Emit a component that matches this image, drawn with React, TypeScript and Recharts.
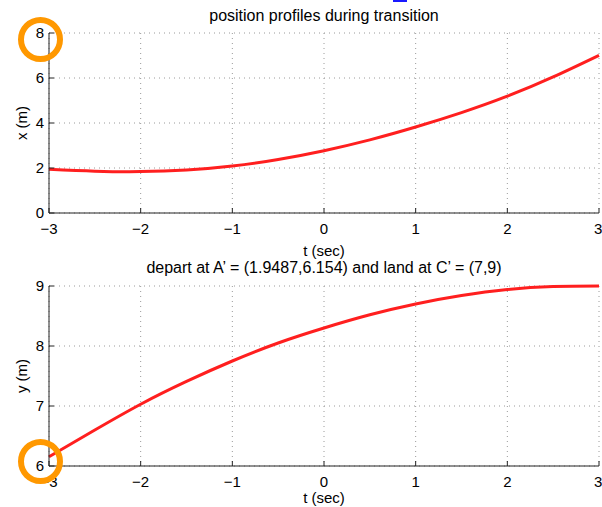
import React from "react";
import { LineChart, Line, XAxis, YAxis, CartesianGrid } from "recharts";

// time samples (sec) and the two position profiles
const T = [-3, -2.5, -2, -1.5, -1, -0.5, 0, 0.5, 1, 1.5, 2, 2.5, 3];
const X_POS = [1.94, 1.86, 1.84, 1.91, 2.09, 2.38, 2.77, 3.25, 3.82, 4.46, 5.19, 6.05, 7.01];
const Y_POS = [6.155, 6.6, 7.03, 7.41, 7.75, 8.05, 8.3, 8.52, 8.7, 8.84, 8.94, 8.99, 9.0];

const T_TICKS = [-3, -2, -1, 0, 1, 2, 3];
const X_TICKS = [0, 2, 4, 6, 8];
const Y_TICKS = [6, 7, 8, 9];

const TITLE_TOP = "position profiles during transition";
const TITLE_BOTTOM = "depart at A\u2019 = (1.9487,6.154) and land at C\u2019 = (7,9)";

const FONT = "'Liberation Sans', Arial, Helvetica, sans-serif";
const RED = "#ff1f1f";
const AXIS = "#222";

const topData = T.map((t, i) => ({ t, v: X_POS[i] }));
const bottomData = T.map((t, i) => ({ t, v: Y_POS[i] }));

const fmt = (v: number) => String(v).replace("-", "\u2212");
const tickStyle = { fill: "#000", fontSize: 15, fontFamily: FONT };

function Panel({
  data,
  yTicks,
  yDomain,
  yLabel,
  height,
  top,
}: {
  data: { t: number; v: number }[];
  yTicks: number[];
  yDomain: [number, number];
  yLabel: string;
  height: number;
  top: number;
}) {
  return (
    <LineChart
      width={602}
      height={height}
      data={data}
      margin={{ top, right: 3, bottom: 2, left: 0 }}
      style={{ fontFamily: FONT }}
    >
      <CartesianGrid stroke="#9a9a9a" strokeDasharray="1 4" />
      <XAxis
        dataKey="t"
        type="number"
        domain={[-3, 3]}
        ticks={T_TICKS}
        tickFormatter={fmt}
        tick={tickStyle}
        tickSize={-5}
        tickMargin={15}
        stroke={AXIS}
        height={height - top - 2 - 180}
        label={{ value: "t (sec)", position: "insideBottom", offset: 2, fill: "#000", fontSize: 15 }}
      />
      <XAxis
        xAxisId="top"
        orientation="top"
        dataKey="t"
        type="number"
        domain={[-3, 3]}
        ticks={T_TICKS}
        tick={false}
        tickSize={-5}
        stroke={AXIS}
        height={0}
      />
      <YAxis
        type="number"
        domain={yDomain}
        ticks={yTicks}
        tick={tickStyle}
        tickSize={-5}
        tickMargin={10}
        stroke={AXIS}
        width={49}
        label={{
          value: yLabel,
          angle: -90,
          position: "insideLeft",
          offset: 22,
          fill: "#000",
          fontSize: 15,
          style: { textAnchor: "middle" },
        }}
      />
      <YAxis
        yAxisId="right"
        orientation="right"
        type="number"
        domain={yDomain}
        ticks={yTicks}
        tick={false}
        tickSize={-5}
        stroke={AXIS}
        width={0}
      />
      <Line
        type="natural"
        dataKey="v"
        stroke={RED}
        strokeWidth={3}
        dot={false}
        isAnimationActive={false}
      />
    </LineChart>
  );
}

const ring = (left: number, top: number): React.CSSProperties => ({
  position: "absolute",
  left,
  top,
  width: 33,
  height: 33,
  borderRadius: "50%",
  border: "6px solid #ff9800",
  pointerEvents: "none",
});

export default function App() {
  return (
    <div
      style={{
        position: "absolute",
        left: 0,
        top: 0,
        width: 602,
        height: 507,
        background: "#fff",
        fontFamily: FONT,
        overflow: "hidden",
      }}
    >
      <div style={{ position: "absolute", left: 393, top: 0, width: 14, height: 2, background: "#1a1aff" }} />
      <div
        style={{
          position: "absolute",
          top: 6,
          left: 49,
          width: 550,
          textAlign: "center",
          fontSize: 16,
          lineHeight: "20px",
          color: "#000",
        }}
      >
        {TITLE_TOP}
      </div>
      <div style={{ position: "absolute", top: 0, left: 0 }}>
        <Panel data={topData} yTicks={X_TICKS} yDomain={[0, 8]} yLabel="x (m)" height={260} top={33} />
      </div>
      <div
        style={{
          position: "absolute",
          top: 258,
          left: 49,
          width: 550,
          textAlign: "center",
          fontSize: 16,
          lineHeight: "20px",
          color: "#000",
        }}
      >
        {TITLE_BOTTOM}
      </div>
      <div style={{ position: "absolute", top: 260, left: 0 }}>
        <Panel data={bottomData} yTicks={Y_TICKS} yDomain={[6, 9]} yLabel="y (m)" height={247} top={26} />
      </div>
      <div style={ring(18, 17)} />
      <div style={ring(18, 439)} />
    </div>
  );
}
